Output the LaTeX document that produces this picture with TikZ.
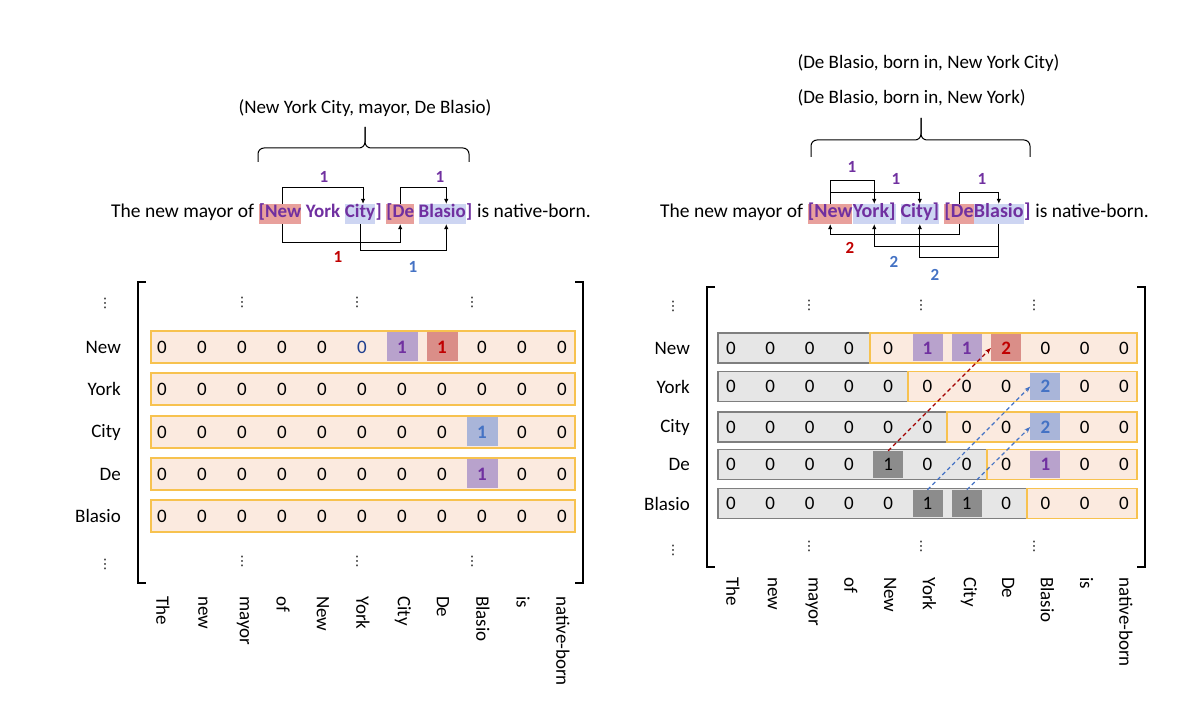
\documentclass[tikz,border=0pt]{standalone}
\usepackage{fontspec}
\setmainfont{Carlito}
\newfontfamily\dvfont{DejaVu Sans}
\usetikzlibrary{arrows.meta,calc}
\definecolor{purp}{HTML}{7030A0}
\definecolor{redt}{HTML}{C00000}
\definecolor{bluet}{HTML}{4472C4}
\definecolor{navyt}{HTML}{1F3F8F}
\definecolor{hlred}{HTML}{E8A09C}
\definecolor{hlblue}{HTML}{CDD5F2}
\definecolor{cellp}{HTML}{B8A2CC}
\definecolor{cellr}{HTML}{DA8E88}
\definecolor{cellb}{HTML}{A9B5D9}
\definecolor{celld}{HTML}{8C8C8C}
\definecolor{peach}{HTML}{FBEADF}
\definecolor{orangeb}{HTML}{F7C24F}
\definecolor{grayf}{HTML}{E6E6E6}
\definecolor{grayb}{HTML}{7F7F7F}
\begin{document}
\begin{tikzpicture}[x=1pt,y=-1pt,
  big/.style={font=\fontsize{19}{22}\selectfont},
  wd/.style={inner sep=0, anchor=base west, text height=14pt, text depth=6pt},
  bwl/.style={text=purp, execute at begin node={\fontsize{19}{22}\selectfont\bfseries}},
  bwr/.style={text=purp, execute at begin node={\fontsize{20}{22}\selectfont\bfseries}},
  hr/.style={fill=hlred},
  hb/.style={fill=hlblue},
  conn/.style={-{Latex[length=5pt,width=4.5pt]}, line width=0.8pt},
  num/.style={font=\fontsize{17}{20}\selectfont\bfseries, inner sep=0},
  bracestyle/.style={line width=1pt, rounded corners=6pt},
  rlab/.style={big, anchor=east, inner sep=0},
  clab/.style={big, rotate=-90, anchor=west, inner sep=0},
  vd/.style={font=\dvfont\fontsize{13}{13}\selectfont, inner sep=0},
  brk/.style={line width=1.6pt},
  orangerow/.style={draw=orangeb, fill=peach, line width=1.2pt},
  grayrow/.style={draw=grayb, fill=grayf, line width=1.4pt},
  lcell/.style={inner sep=0, minimum width=31pt, minimum height=29pt, font=\fontsize{19}{22}\selectfont},
  rcell/.style={inner sep=0, minimum width=30pt, minimum height=27pt, font=\fontsize{19}{22}\selectfont},
  c0/.style={},
  cn/.style={text=navyt},
  cp/.style={fill=cellp, text=purp, font=\fontsize{19}{22}\selectfont\bfseries},
  cr/.style={fill=cellr, text=redt, font=\fontsize{19}{22}\selectfont\bfseries},
  cb/.style={fill=cellb, text=bluet, font=\fontsize{19}{22}\selectfont\bfseries},
  cd/.style={fill=celld, text=black},
  dsh/.style={-{Stealth[length=6pt,width=4.5pt]}, line width=1.2pt, dash pattern=on 4pt off 3pt}
]
\useasboundingbox (0,0) rectangle (1200,708);

% ================= LEFT PANEL =================
\node[big] (ltuple) at (365,108) {(New York City, mayor, De Blasio)};
\draw[bracestyle] (258,162) -- (258,148) -- (365,148) -- (365,127);
\draw[bracestyle] (469,162) -- (469,148) -- (365,148) -- (365,127);

\begin{scope}[font=\fontsize{19.5}{22}\selectfont]
\node[wd] (lThe) at (111,218) {The new mayor of};
\node[wd,bwl,hr] (lNew) at ($(lThe.base east)+(4.4,0)$) {[New};
\node[wd,bwl] (lYork) at ($(lNew.base east)+(4.2,0)$) {York};
\node[wd,bwl,hb] (lCity) at ($(lYork.base east)+(4.2,0)$) {City};
\node[wd,bwl] (lRa) at (lCity.base east) {]};
\node[wd,bwl,hr] (lDe) at ($(lRa.base east)+(4.2,0)$) {[De};
\node[wd,bwl,hb] (lBlasio) at ($(lDe.base east)+(4.2,0)$) {Blasio};
\node[wd,bwl] (lRb) at (lBlasio.base east) {]};
\node[wd] (lEnd) at ($(lRb.base east)+(4.4,0)$) {is native-born.};
\end{scope}

\draw[conn] ([xshift=2pt]lNew.north) -- ++(0,-16) -| ([xshift=3pt]lCity.north);
\draw[conn] (lDe.north) -- ++(0,-16) -| ([xshift=4pt]lBlasio.north);
\draw[conn] ([xshift=2pt]lNew.south) -- ++(0,18) -| (lDe.south);
\draw[conn] (lCity.south) -- ++(0,26) -| ([xshift=4pt]lBlasio.south);
\node[num, text=purp] (ln1) at (324,177) {1};
\node[num, text=purp] (ln2) at (440,177) {1};
\node[num, text=redt] (ln3) at (338,257) {1};
\node[num, text=bluet] (ln4) at (413,267) {1};

% left matrix
\draw[brk] (146,282) -- (138,282) -- (138,583) -- (146,583);
\draw[brk] (575,282) -- (583,282) -- (583,583) -- (575,583);
\node[vd] (lvd0) at (105,303) {⋮};
\node[vd] (lvd1) at (105,564) {⋮};
\node[vd] (lvd2) at (242,302) {⋮};
\node[vd] (lvd3) at (357,302) {⋮};
\node[vd] (lvd4) at (472,302) {⋮};
\node[vd] (lvd5) at (242,561) {⋮};
\node[vd] (lvd6) at (357,561) {⋮};
\node[vd] (lvd7) at (472,561) {⋮};

\foreach \y/\nm/\row [count=\r] in {
  347/New/{c0/0,c0/0,c0/0,c0/0,c0/0,cn/0,cp/1,cr/1,c0/0,c0/0,c0/0},
  389/York/{c0/0,c0/0,c0/0,c0/0,c0/0,c0/0,c0/0,c0/0,c0/0,c0/0,c0/0},
  432/City/{c0/0,c0/0,c0/0,c0/0,c0/0,c0/0,c0/0,c0/0,cb/1,c0/0,c0/0},
  474/De/{c0/0,c0/0,c0/0,c0/0,c0/0,c0/0,c0/0,c0/0,cp/1,c0/0,c0/0},
  516/Blasio/{c0/0,c0/0,c0/0,c0/0,c0/0,c0/0,c0/0,c0/0,c0/0,c0/0,c0/0}} {
  \node[rlab] (llab\r) at (121,\y) {\nm};
  \draw[orangerow] (151,\y-16) rectangle (575,\y+16);
  \foreach \s/\v [count=\j from 0] in \row {
    \node[lcell,\s] (L\r-\j) at ({162+40*\j},\y) {\v};
  }
}
\foreach \w [count=\j from 0] in {The,new,mayor,of,New,York,City,De,Blasio,is,native-born} {
  \node[clab] (lc\j) at ({163+40*\j},596) {\w};
}

% ================= RIGHT PANEL =================
\node[big, anchor=west] (rtuple1) at (794,63) {(De Blasio, born in, New York City)};
\node[big, anchor=west] (rtuple2) at (794,98) {(De Blasio, born in, New York)};
\draw[bracestyle] (811,157) -- (811,140) -- (921,140) -- (921,118);
\draw[bracestyle] (1030,157) -- (1030,140) -- (921,140) -- (921,118);

\begin{scope}[font=\fontsize{19.5}{22}\selectfont]
\node[wd] (rThe) at (660,218) {The new mayor of};
\node[wd,bwr,hr] (rNew) at ($(rThe.base east)+(4.4,0)$) {[New\hspace{4.4pt}};
\node[wd,bwr,hb] (rYork) at (rNew.base east) {York]};
\node[wd,bwr,hb] (rCity) at ($(rYork.base east)+(4.6,0)$) {City]};
\node[wd,bwr,hr] (rDe) at ($(rCity.base east)+(5,0)$) {[De};
\node[wd,bwr,hb] (rBlasio) at (rDe.base east) {Blasio};
\node[wd,bwr] (rRb) at (rBlasio.base east) {]};
\node[wd] (rEnd) at ($(rRb.base east)+(4.4,0)$) {is native-born.};
\end{scope}

\draw[conn] (rNew.north) -- ++(0,-23) -| (rYork.north);
\draw[conn] (rNew.north) -- ++(0,-11) -| (rCity.north);
\draw[conn] (rDe.north) -- ++(0,-11) -| (rBlasio.north);
\draw[conn] (rDe.south) -- ++(0,10) -| (rNew.south);
\draw[conn] (rBlasio.south) -- ++(0,22) -| (rYork.south);
\draw[conn] (rBlasio.south) -- ++(0,33) -| (rCity.south);
\node[num, text=purp] (rn1) at (852,167) {1};
\node[num, text=purp] (rn2) at (896,179) {1};
\node[num, text=purp] (rn3) at (982,179) {1};
\node[num, text=redt] (rn4) at (850,248) {2};
\node[num, text=bluet] (rn5) at (894,262) {2};
\node[num, text=bluet] (rn6) at (935,275) {2};

% right matrix
\draw[brk] (715,287) -- (707,287) -- (707,567) -- (715,567);
\draw[brk] (1137,287) -- (1145,287) -- (1145,567) -- (1137,567);
\node[vd] (rvd0) at (673,306) {⋮};
\node[vd] (rvd1) at (673,550) {⋮};
\node[vd] (rvd2) at (809,305) {⋮};
\node[vd] (rvd3) at (921,305) {⋮};
\node[vd] (rvd4) at (1034,305) {⋮};
\node[vd] (rvd5) at (809,546) {⋮};
\node[vd] (rvd6) at (921,546) {⋮};
\node[vd] (rvd7) at (1034,546) {⋮};

\foreach \y/\b/\nm/\row [count=\r] in {
  348/870/New/{c0/0,c0/0,c0/0,c0/0,c0/0,cp/1,cp/1,cr/2,c0/0,c0/0,c0/0},
  386.5/908/York/{c0/0,c0/0,c0/0,c0/0,c0/0,c0/0,c0/0,c0/0,cb/2,c0/0,c0/0},
  427/947/City/{c0/0,c0/0,c0/0,c0/0,c0/0,c0/0,c0/0,c0/0,cb/2,c0/0,c0/0},
  464.5/987/De/{c0/0,c0/0,c0/0,c0/0,cd/1,c0/0,c0/0,c0/0,cp/1,c0/0,c0/0},
  503.5/1027/Blasio/{c0/0,c0/0,c0/0,c0/0,c0/0,cd/1,cd/1,c0/0,c0/0,c0/0,c0/0}} {
  \node[rlab] (rlab\r) at (690,\y) {\nm};
  \draw[grayrow] (718,\y-15) rectangle (\b,\y+15);
  \draw[orangerow] (\b,\y-15) rectangle (1137,\y+15);
  \foreach \s/\v [count=\j from 0] in \row {
    \node[rcell,\s] (R\r-\j) at ({731+39.3*\j},\y) {\v};
  }
}
\foreach \w [count=\j from 0] in {The,new,mayor,of,New,York,City,De,Blasio,is,native-born} {
  \node[clab] (rc\j) at ({733+39.3*\j},577) {\w};
}

\draw[dsh, redt!85!black] (R4-4.north) -- (R1-7.west);
\draw[dsh, bluet] (R5-5.north) -- (R2-8.west);
\draw[dsh, bluet] (R5-6.north) -- (R3-8.west);
\end{tikzpicture}
\end{document}
